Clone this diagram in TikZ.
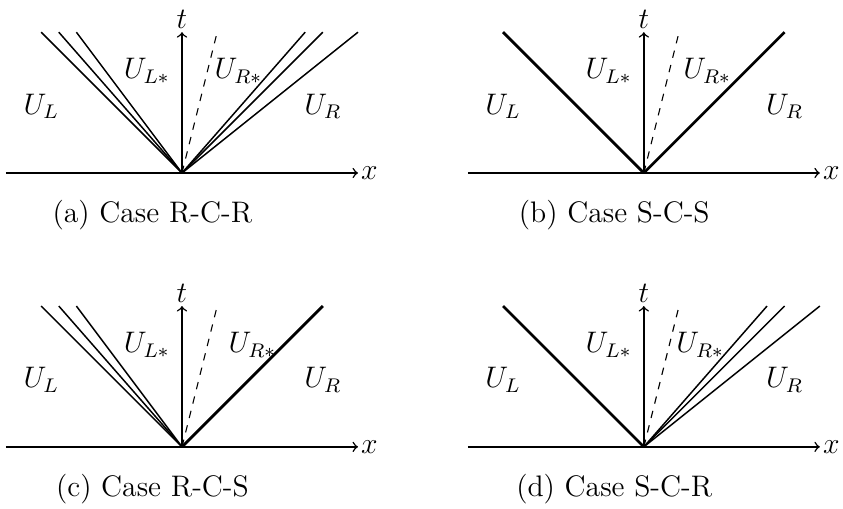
\documentclass[tikz,border=0pt]{standalone}
\usetikzlibrary{positioning}

\begin{document}
\begin{tikzpicture}[line width=0.6pt, axisline/.style={->}, wave/.style={}, shock/.style={line width=1.1pt}, contact/.style={dashed, line width=0.45pt},
  every node/.style={inner sep=1pt, font=\large}]
\useasboundingbox (-2.585,-4.759) rectangle (9.389,2.457);

% (a) rarefaction - contact - rarefaction
\begin{scope}
\coordinate (oa) at (0,0);
\coordinate (xla) at (-2.5,0);
\coordinate (xra) at (2.5,0);
\coordinate (ta) at (0,2);
\draw[axisline] (xla) -- (xra) node[right] (xa) {$x$};
\draw[axisline] (oa) -- (ta) node[above] (tla) {$t$};
\draw[wave] (oa) -- (-2,2);
\draw[wave] (oa) -- (-1.75,2);
\draw[wave] (oa) -- (-1.5,2);
\draw[contact] (oa) -- (0.5,2);
\draw[wave] (oa) -- (1.75,2);
\draw[wave] (oa) -- (2,2);
\draw[wave] (oa) -- (2.5,2);
\node (ula) at (-2,0.95) {$U_L$};
\node (ulsa) at (-0.5,1.45) {$U_{L*}$};
\node (ursa) at (0.8,1.45) {$U_{R*}$};
\node (ura) at (2,0.95) {$U_R$};
\node (capa) at (-0.42,-0.6) {(a) Case R-C-R};
\end{scope}

% (b) shock - contact - shock
\begin{scope}[shift={(6.56,0)}]
\coordinate (ob) at (0,0);
\coordinate (xlb) at (-2.5,0);
\coordinate (xrb) at (2.5,0);
\coordinate (tb) at (0,2);
\draw[axisline] (xlb) -- (xrb) node[right] (xb) {$x$};
\draw[axisline] (ob) -- (tb) node[above] (tlb) {$t$};
\draw[shock] (ob) -- (-2,2);
\draw[contact] (ob) -- (0.5,2);
\draw[shock] (ob) -- (2,2);
\node (ulb) at (-2,0.95) {$U_L$};
\node (ulsb) at (-0.5,1.45) {$U_{L*}$};
\node (ursb) at (0.9,1.45) {$U_{R*}$};
\node (urb) at (2,0.95) {$U_R$};
\node (capb) at (-0.42,-0.6) {(b) Case S-C-S};
\end{scope}

% (c) rarefaction - contact - shock
\begin{scope}[shift={(0,-3.89)}]
\coordinate (oc) at (0,0);
\coordinate (xlc) at (-2.5,0);
\coordinate (xrc) at (2.5,0);
\coordinate (tc) at (0,2);
\draw[axisline] (xlc) -- (xrc) node[right] (xc) {$x$};
\draw[axisline] (oc) -- (tc) node[above] (tlc) {$t$};
\draw[wave] (oc) -- (-2,2);
\draw[wave] (oc) -- (-1.75,2);
\draw[wave] (oc) -- (-1.5,2);
\draw[contact] (oc) -- (0.5,2);
\draw[shock] (oc) -- (2,2);
\node (ulc) at (-2,0.95) {$U_L$};
\node (ulsc) at (-0.5,1.45) {$U_{L*}$};
\node (ursc) at (1,1.45) {$U_{R*}$};
\node (urc) at (2,0.95) {$U_R$};
\node (capc) at (-0.42,-0.6) {(c) Case R-C-S};
\end{scope}

% (d) shock - contact - rarefaction
\begin{scope}[shift={(6.56,-3.89)}]
\coordinate (od) at (0,0);
\coordinate (xld) at (-2.5,0);
\coordinate (xrd) at (2.5,0);
\coordinate (td) at (0,2);
\draw[axisline] (xld) -- (xrd) node[right] (xd) {$x$};
\draw[axisline] (od) -- (td) node[above] (tld) {$t$};
\draw[shock] (od) -- (-2,2);
\draw[contact] (od) -- (0.5,2);
\draw[wave] (od) -- (1.75,2);
\draw[wave] (od) -- (2,2);
\draw[wave] (od) -- (2.5,2);
\node (uld) at (-2,0.95) {$U_L$};
\node (ulsd) at (-0.5,1.45) {$U_{L*}$};
\node (ursd) at (0.8,1.45) {$U_{R*}$};
\node (urd) at (2,0.95) {$U_R$};
\node (capd) at (-0.42,-0.6) {(d) Case S-C-R};
\end{scope}
\end{tikzpicture}
\end{document}
